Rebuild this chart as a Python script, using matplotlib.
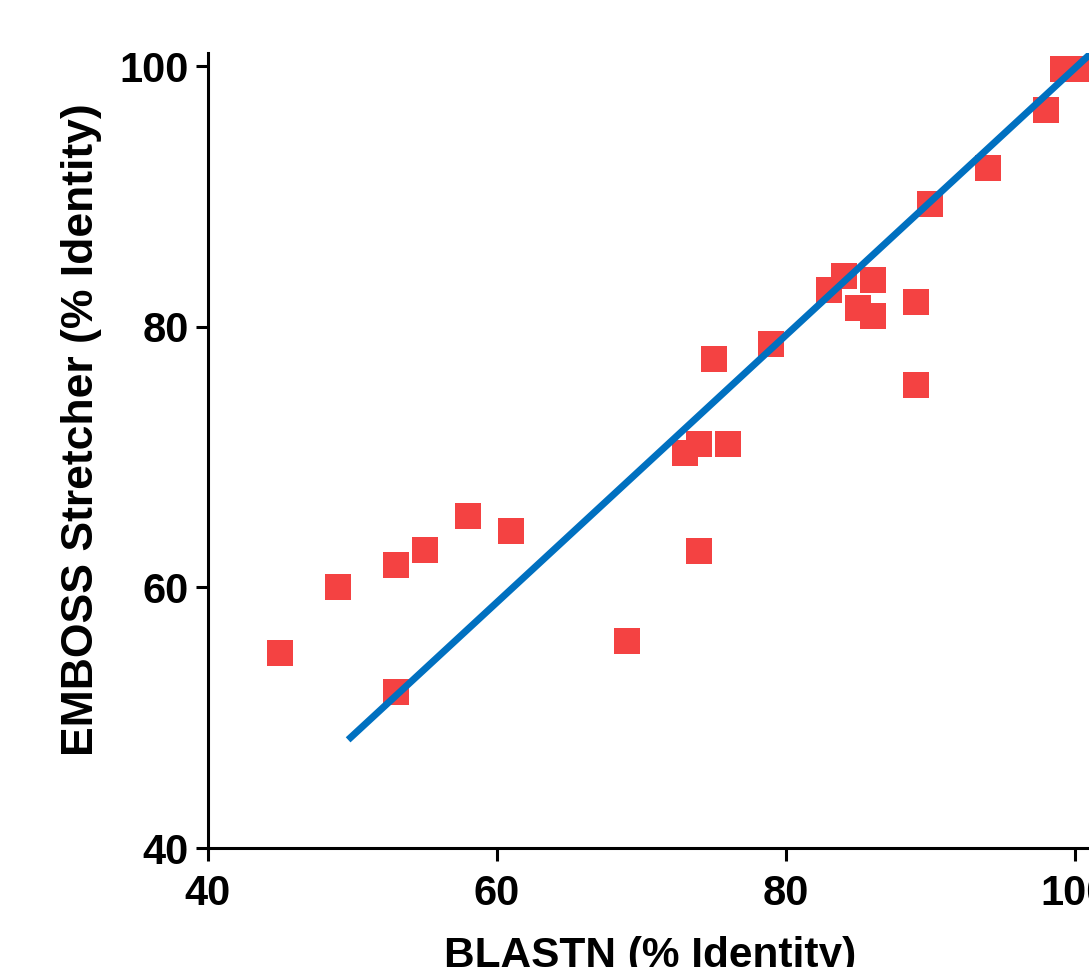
import matplotlib.pyplot as plt

# BLASTN vs EMBOSS Stretcher identity values
blastn = [45, 49, 53, 55, 58, 61, 53, 69, 74, 73, 74, 76, 75, 79,
          83, 84, 86, 85, 86, 89, 89, 90, 94, 98, 99.2, 100.2]
emboss = [55.0, 60.0, 61.7, 62.9, 65.5, 64.3, 52.0, 55.9, 62.8, 70.3, 71.0, 71.0, 77.5, 78.7,
          82.8, 83.9, 83.6, 81.4, 80.8, 81.9, 75.5, 89.4, 92.2, 96.6, 99.8, 99.8]

# linear fit line end points
fit_x = [49.7, 103.0]
fit_y = [48.3, 102.9]

x_ticks = [40, 60, 80, 100]
y_ticks = [40, 60, 80, 100]

plt.rcParams['font.family'] = ['Liberation Sans', 'DejaVu Sans']
plt.rcParams['font.weight'] = 'bold'

fig = plt.figure(figsize=(10.89, 9.67), dpi=100)
# axes extends past right edge of figure like the cropped original
ax = fig.add_axes([208/1089, 119/967, 939/1089, 795/967])

ax.scatter(blastn, emboss, marker='s', s=360, color='#F44242', linewidths=0, zorder=2)
ax.plot(fit_x, fit_y, color='#0070C0', lw=5, solid_capstyle='butt', zorder=3)

ax.set_xlim(40, 105)
ax.set_ylim(40, 101)
ax.set_xticks(x_ticks)
ax.set_yticks(y_ticks)

for s in ['top', 'right']:
    ax.spines[s].set_visible(False)
for s in ['left', 'bottom']:
    ax.spines[s].set_linewidth(2.2)

ax.tick_params(direction='out', length=9, width=2.2, labelsize=30)
ax.tick_params(axis='x', pad=10)
ax.tick_params(axis='y', pad=5)

ax.set_xlabel('BLASTN (% Identity)', fontsize=30.5, fontweight='bold')
ax.set_ylabel('EMBOSS Stretcher (% Identity)', fontsize=32, fontweight='bold')
ax.xaxis.set_label_coords(0.471, -0.111)
ax.yaxis.set_label_coords(-0.113, 0.526)

plt.savefig('out.png', dpi=100)
